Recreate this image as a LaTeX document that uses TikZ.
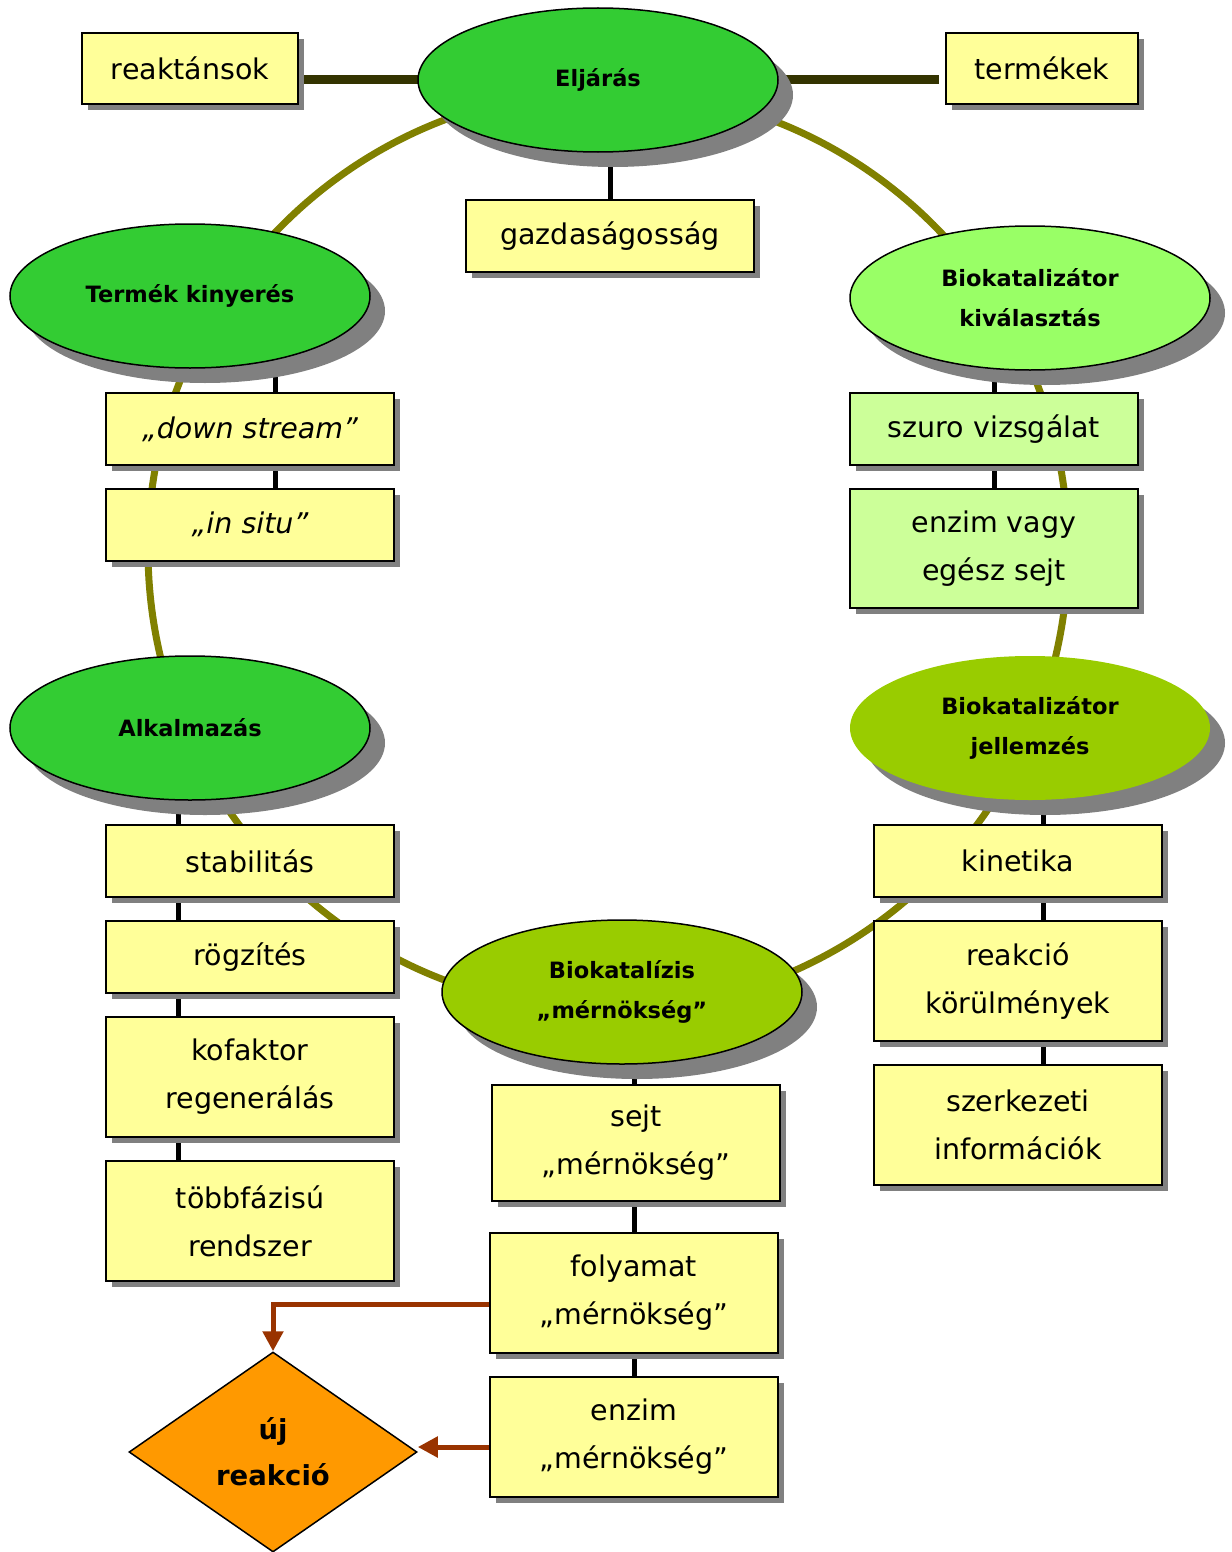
\documentclass[tikz,border=0pt]{standalone}
\usepackage{fontspec}
\setmainfont{DejaVu Sans}
\usetikzlibrary{shapes.geometric,shadows,arrows.meta,calc}
\pgfdeclarelayer{bg}
\pgfsetlayers{bg,main}
\definecolor{boxy}{HTML}{FFFF99}
\definecolor{boxg}{HTML}{CCFF99}
\definecolor{gA}{HTML}{33CC33}
\definecolor{gB}{HTML}{99FF66}
\definecolor{gC}{HTML}{99CC00}
\definecolor{ringc}{HTML}{808000}
\definecolor{darkc}{HTML}{333300}
\definecolor{arrc}{HTML}{993300}
\definecolor{orng}{HTML}{FF9900}
\definecolor{shad}{HTML}{808080}
\begin{document}
\begin{tikzpicture}[x=1pt,y=-1pt,
  box/.style={draw=black, line width=2pt, fill=boxy, minimum width=288pt, minimum height=72pt,
    inner sep=0pt, align=center, font=\fontsize{28.5}{48}\selectfont,
    general shadow={fill=shad, shadow xshift=6pt, shadow yshift=-6pt}},
  ell/.style={ellipse, draw=black, line width=1.5pt, minimum width=360pt, minimum height=144pt,
    inner sep=0pt, align=center, font=\bfseries\fontsize{22.5}{40}\selectfont,
    general shadow={fill=shad, shadow xshift=15pt, shadow yshift=-15pt}},
  ring/.style={draw=ringc, line width=7pt},
  darkline/.style={draw=darkc, line width=9pt},
  conn/.style={draw=black, line width=5pt},
  arr/.style={draw=arrc, line width=5pt, -{Triangle[length=20pt,width=20pt]}}
]
\useasboundingbox (0,0) rectangle (1231,1552);

% ellipses
\node[ell, fill=gA] (elj) at (598,80) {Eljárás};
\node[ell, fill=gA] (tk) at (190,296) {Termék kinyerés};
\node[ell, fill=gB] (kiv) at (1030,298) {Biokatalizátor\\kiválasztás};
\node[ell, fill=gA] (alk) at (190,728) {Alkalmazás};
\node[ell, fill=gC, draw=none] (jel) at (1030,728) {Biokatalizátor\\jellemzés};
\node[ell, fill=gC] (bk) at (622,992) {Biokatalízis\\„mérnökség”};

% boxes
\node[box, minimum width=216pt, minimum height=71pt] (reak) at (190,68.5) {reaktánsok};
\node[box, minimum width=192pt, minimum height=71pt] (term) at (1042,68.5) {termékek};
\node[box] (gazd) at (610,236) {gazdaságosság};
\node[box] (ds) at (250,429) {\itshape „down stream”};
\node[box] (insitu) at (250,524.5) {\itshape „in situ”};
\node[box, fill=boxg] (szuro) at (994,429) {szuro vizsgálat};
\node[box, fill=boxg, minimum height=119pt] (enzv) at (994,548.5) {enzim vagy\\egész sejt};
\node[box] (stab) at (250,861) {stabilitás};
\node[box] (rogz) at (250,957) {rögzítés};
\node[box, minimum height=120pt] (kof) at (250,1077) {kofaktor\\regenerálás};
\node[box, minimum height=120pt] (tob) at (250,1221) {többfázisú\\rendszer};
\node[box, minimum height=116pt] (sejt) at (636,1143) {sejt\\„mérnökség”};
\node[box, minimum height=120pt] (foly) at (634,1293) {folyamat\\„mérnökség”};
\node[box, minimum height=120pt] (enzm) at (634,1437) {enzim\\„mérnökség”};
\node[box] (kin) at (1018,861) {kinetika};
\node[box, minimum height=120pt] (reakc) at (1018,981) {reakció\\körülmények};
\node[box, minimum height=120pt] (szerk) at (1018,1125) {szerkezeti\\információk};

% diamond
\node[diamond, draw=black, line width=1.5pt, fill=orng, minimum width=288pt, minimum height=200pt,
  inner sep=0pt, align=center, font=\bfseries\fontsize{27.5}{46}\selectfont] (dia) at (273,1452) {új\\reakció};

\begin{pgfonlayer}{bg}
  \draw[ring] (608,550) circle [radius=460];
  \draw[darkline] (reak.east |- elj.center) -- (elj.center);
  \draw[darkline] (elj.center) -- ([xshift=-6pt]term.west |- elj.center);
  \coordinate (eljD) at ([xshift=12pt]elj.center);
  \draw[conn] (eljD) -- (eljD |- gazd.north);
  \coordinate (tkD) at ([xshift=85pt]tk.center);
  \draw[conn] (tkD) -- (tkD |- insitu.north);
  \draw[conn] (kiv.center -| szuro.center) -- (enzv.north);
  \coordinate (alkD) at ([xshift=-12pt]alk.center);
  \draw[conn] (alkD) -- (alkD |- tob.north);
  \coordinate (jelD) at ([xshift=13pt]jel.center);
  \draw[conn] (jelD) -- (jelD |- szerk.north);
  \draw[conn] (bk.center -| foly.center) -- (enzm.north);
\end{pgfonlayer}

\draw[arr] ([yshift=-11pt]foly.west) -| (dia.north);
\coordinate (enzA) at ([yshift=-10pt]enzm.west);
\draw[arr] (enzA) -- (enzA -| dia.east);
\end{tikzpicture}
\end{document}
